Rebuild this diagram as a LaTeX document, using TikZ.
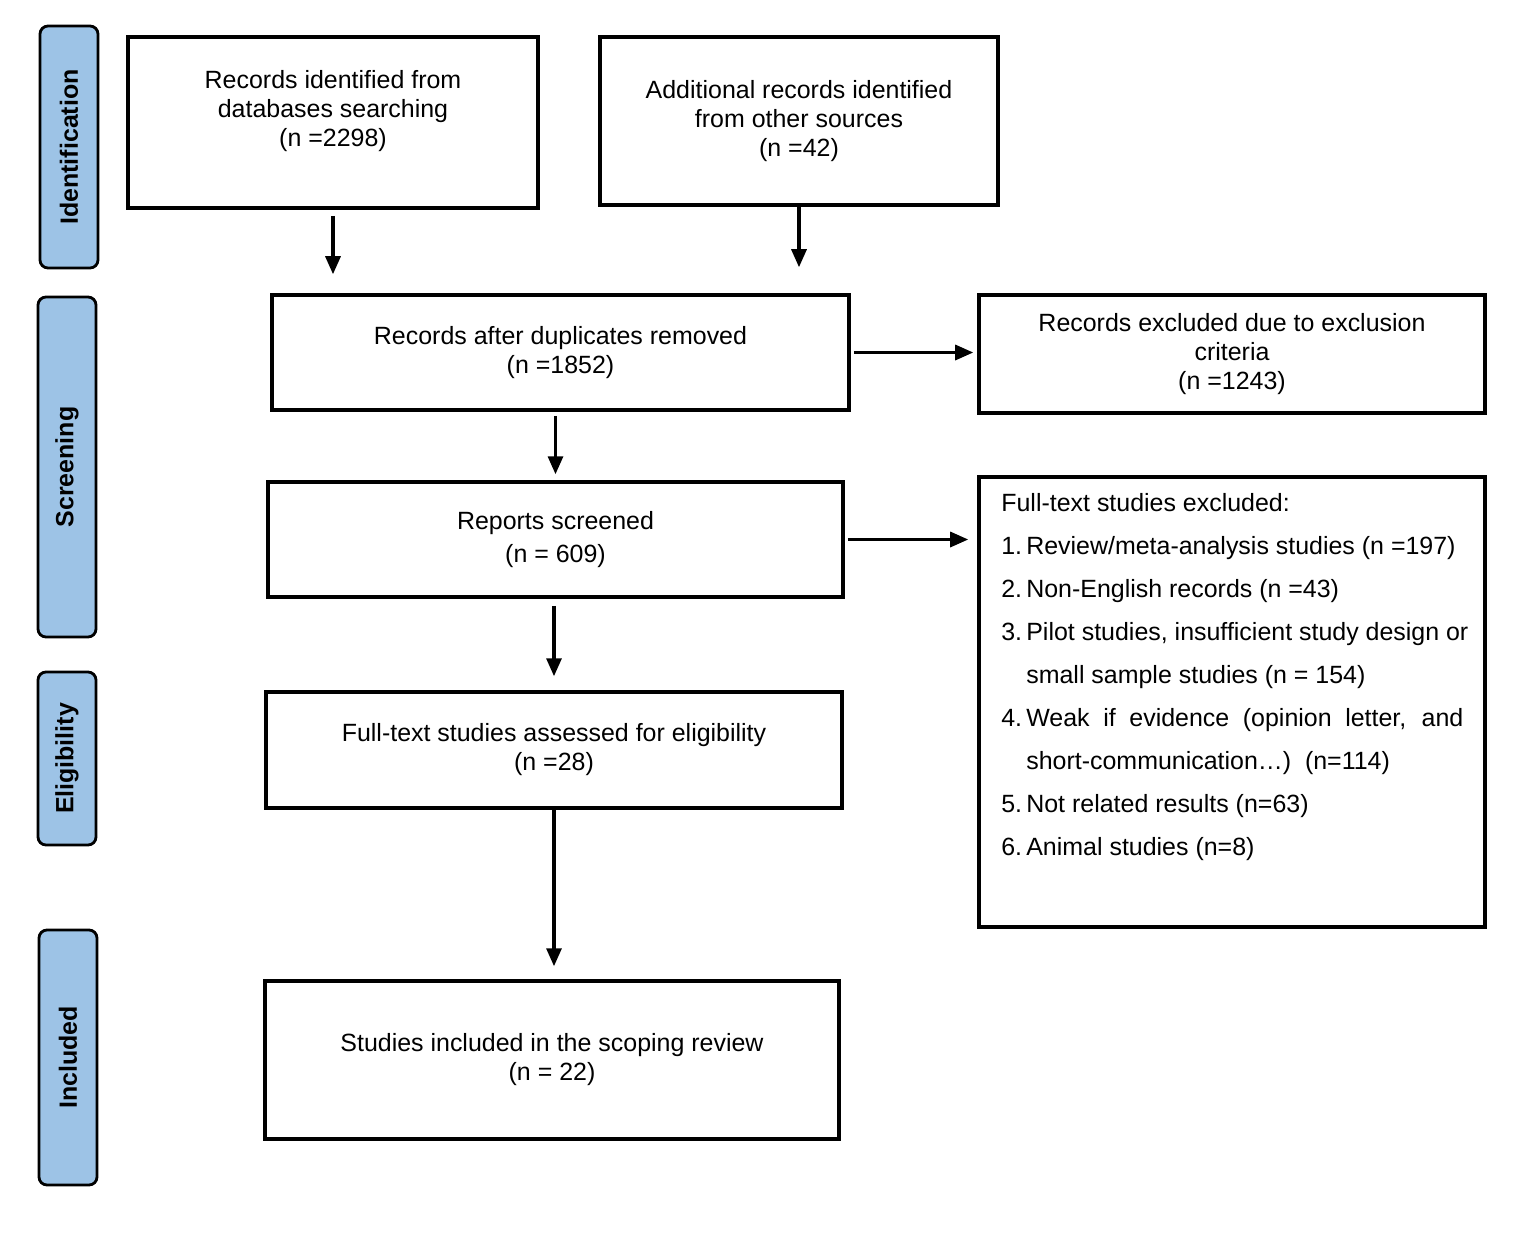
\documentclass[tikz,border=0pt]{standalone}
\usepackage{fontspec}
\setmainfont{Liberation Sans}
\usepackage{tikz}
\usetikzlibrary{arrows.meta}
\definecolor{phaseblue}{RGB}{157,195,230}
\newcommand\itemno[1]{\makebox[0.5cm][l]{#1}}

\begin{document}
\begin{tikzpicture}[
  recbox/.style={draw, line width=2pt, align=center, inner sep=0pt, font=\fontsize{14.2}{16.5}\selectfont},
  phase/.style={draw, line width=1.6pt, rounded corners=0.16cm, fill=phaseblue, rotate=90, inner sep=0pt, minimum height=1.16cm, font=\bfseries\fontsize{14.2}{16.5}\selectfont},
  flowarrow/.style={-{Triangle[length=0.36cm, width=0.3cm]}, line width=1.8pt}
]
\useasboundingbox (0,0) rectangle (30.64,-24.7);

% stages
\node[phase, minimum width=4.84cm] at (1.38,-2.94) (pid) {Identification};
\node[phase, minimum width=6.8cm] at (1.34,-9.34) (pscr) {Screening};
\node[phase, minimum width=3.46cm] at (1.34,-15.17) (pelig) {Eligibility};
\node[phase, minimum width=5.1cm] at (1.36,-21.15) (pincl) {Included};

% boxes
\node[recbox, minimum width=8.2cm, minimum height=3.42cm] at (6.66,-2.45) (db) {};
\node[align=center, inner sep=0pt, font=\fontsize{14.2}{16.5}\selectfont] at (6.66,-2.22) (dbtext) {Records identified from\\databases searching\\(n =2298)};
\node[recbox, minimum width=7.96cm, minimum height=3.36cm] at (15.98,-2.42) (other) {Additional records identified\\from other sources\\(n =42)};
\node[recbox, minimum width=11.54cm, minimum height=2.3cm] at (11.21,-7.05) (dup) {Records after duplicates removed\\(n =1852)};
\node[recbox, minimum width=10.12cm, minimum height=2.36cm] at (24.64,-7.08) (excl1) {Records excluded due to exclusion\\criteria\\(n =1243)};
\node[recbox, minimum width=11.5cm, minimum height=2.3cm] at (11.11,-10.79) (scr) {Reports screened\\[0.08cm](n = 609)};
\node[recbox, minimum width=11.52cm, minimum height=2.32cm] at (11.08,-15.0) (elig) {Full-text studies assessed for eligibility\\(n =28)};
\node[recbox, minimum width=11.48cm, minimum height=3.16cm] at (11.04,-21.2) (incl) {Studies included in the scoping review\\(n = 22)};
\node[recbox, minimum width=10.12cm, minimum height=9.0cm] at (24.64,-14.04) (excl2) {};
\node[anchor=north west, align=left, inner sep=0pt, font=\fontsize{14.2}{24.5}\selectfont] at (20.02,-9.86) (excltext) {%
Full-text studies excluded:\\
\itemno{1.}Review/meta-analysis studies (n =197)\\
\itemno{2.}Non-English records (n =43)\\
\itemno{3.}Pilot studies, insufficient study design or\\
\itemno{}small sample studies (n = 154)\\
\itemno{4.}\makebox[8.74cm][s]{Weak if evidence (opinion letter, and}\\
\itemno{}short-communication…)\ \ (n=114)\\
\itemno{5.}Not related results (n=63)\\
\itemno{6.}Animal studies (n=8)};

% arrows
\draw[flowarrow, shorten <=0.12cm, shorten >=0.38cm] (db.south) -- (db.south |- dup.north);
\draw[flowarrow, shorten >=0.52cm] (other.south) -- (other.south |- dup.north);
\draw[flowarrow, shorten <=0.08cm, shorten >=0.12cm] (scr.north |- dup.south) -- (scr.north);
\draw[flowarrow, shorten <=0.14cm, shorten >=0.28cm] (elig.north |- scr.south) -- (elig.north);
\draw[flowarrow, shorten >=0.26cm] (elig.south) -- (elig.south |- incl.north);
\draw[flowarrow, shorten <=0.06cm, shorten >=0.08cm] (dup.east) -- (dup.east -| excl1.west);
\draw[flowarrow, shorten <=0.06cm, shorten >=0.18cm] (scr.east) -- (scr.east -| excl2.west);

\end{tikzpicture}
\end{document}
